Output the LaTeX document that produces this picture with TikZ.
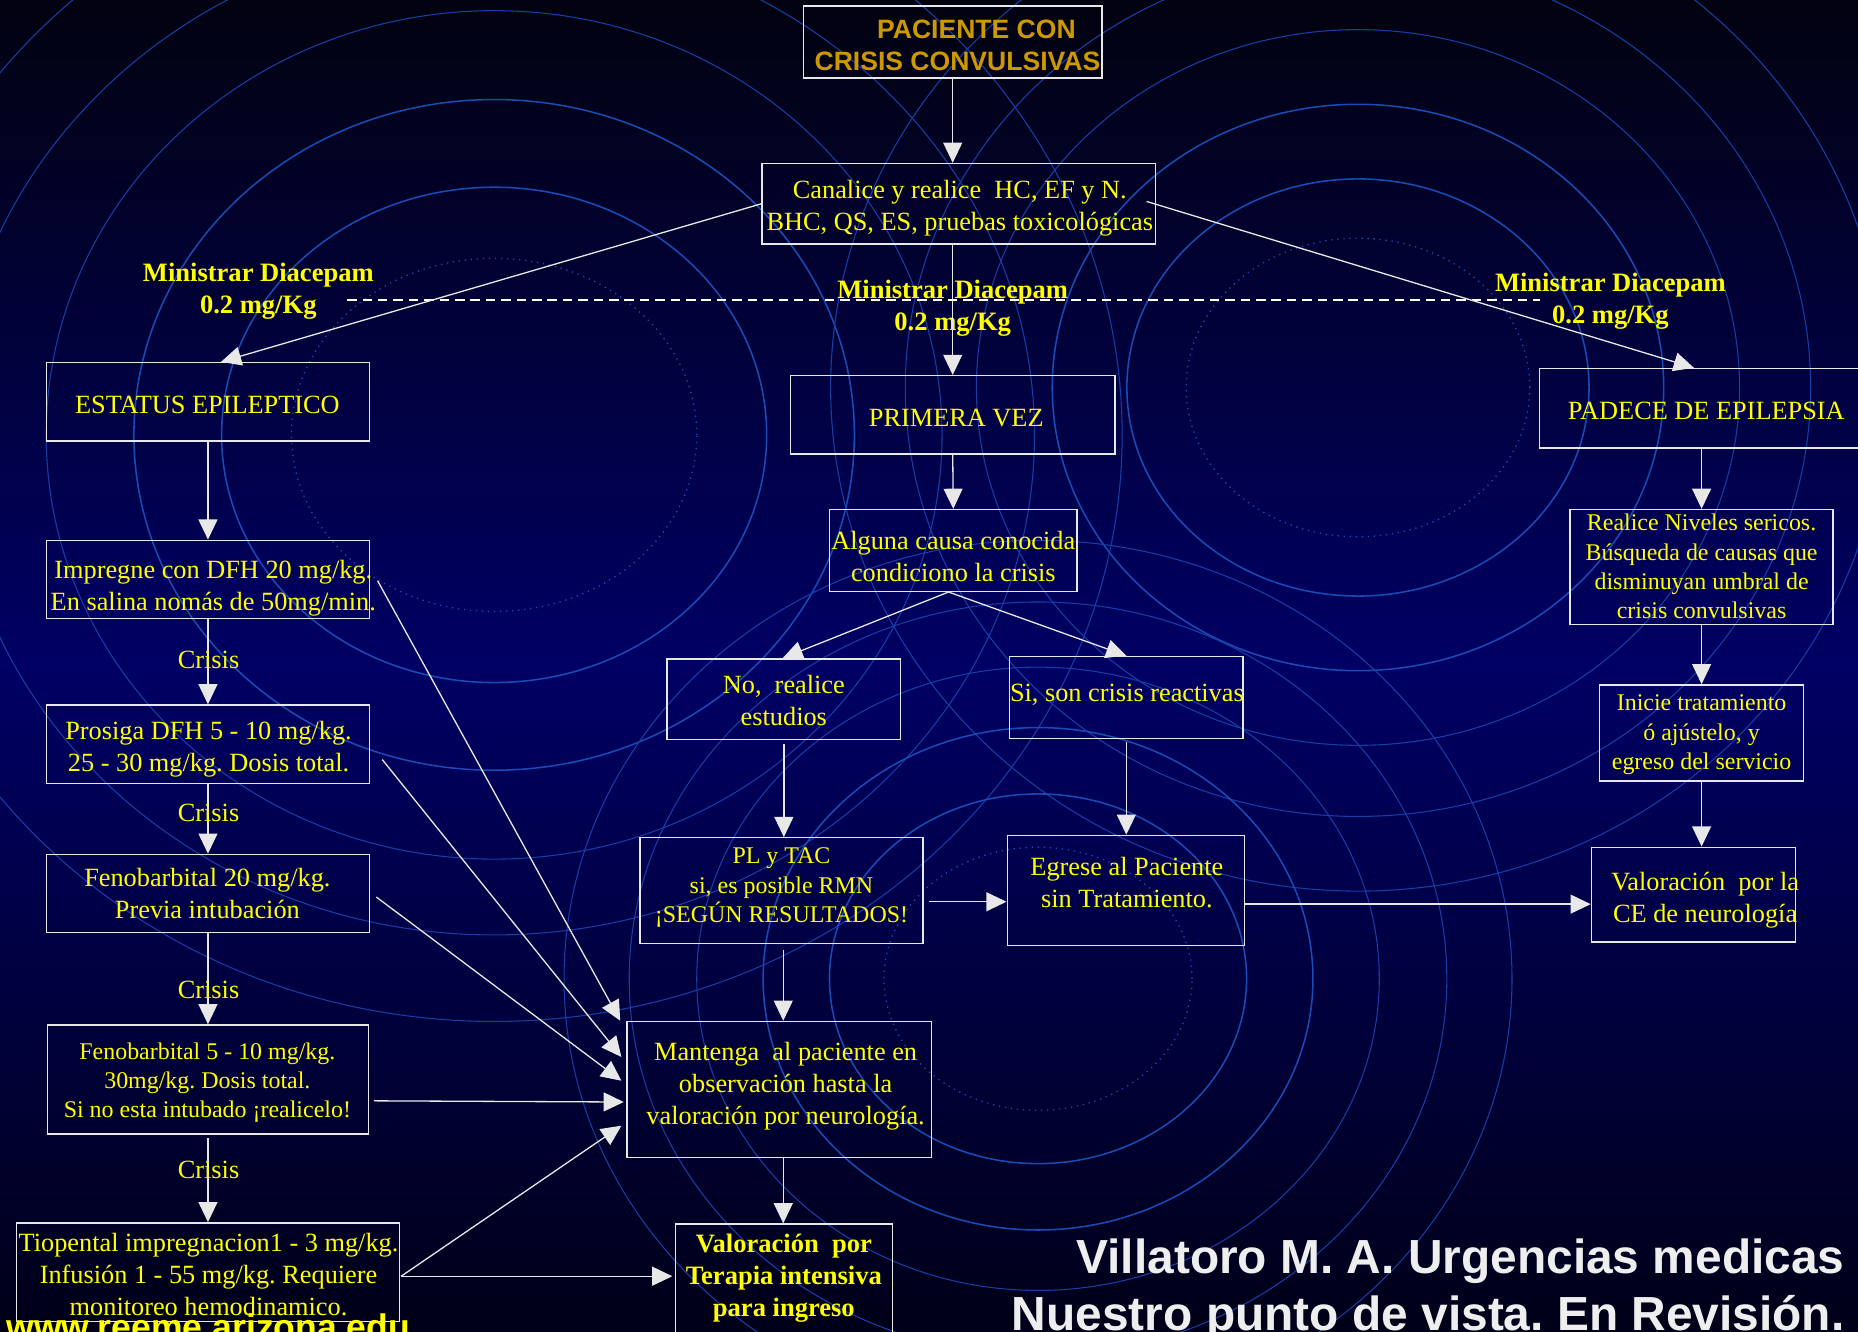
\documentclass[tikz,border=0pt]{standalone}
\usepackage{fontspec}
\setmainfont{Liberation Serif}
\newfontfamily\sansf{Liberation Sans}
\usetikzlibrary{arrows.meta,calc}
\definecolor{ylw}{RGB}{255,255,0}
\definecolor{gold}{RGB}{204,153,0}
\definecolor{ring}{RGB}{25,75,180}
\definecolor{ringdim}{RGB}{22,62,165}
\definecolor{bgtop}{RGB}{2,2,16}
\definecolor{bgmid}{RGB}{0,0,100}
\definecolor{bgbot}{RGB}{0,0,24}
\definecolor{lncol}{RGB}{232,232,232}
\definecolor{footcol}{RGB}{238,238,238}
\frenchspacing
\begin{document}
\begin{tikzpicture}[x=0.5pt,y=-0.5pt,
  box/.style={draw=lncol, line width=0.6pt, inner sep=0pt},
  txt/.style={text=ylw, align=center, inner sep=0pt, font=\fontsize{11.1}{13.5}\selectfont},
  txts/.style={text=ylw, align=center, inner sep=0pt, font=\fontsize{10.1}{12.3}\selectfont},
  txtb/.style={text=ylw, align=center, inner sep=0pt, font=\fontsize{11.2}{13.5}\selectfont\bfseries},
  arr/.style={draw=lncol, line width=0.55pt, -{Triangle[length=8.5pt,width=8pt]}},
  ringS/.style={draw=ring, line width=0.65pt},
  ringT/.style={draw=ringdim, line width=0.45pt},
  ringD/.style={draw=ring, line width=0.55pt, dotted}
]
\useasboundingbox (0,0) rectangle (1568,1124);
\clip (0,0) rectangle (1568,1124);
% background
\shade[top color=bgtop, bottom color=bgmid] (0,0) rectangle (1568,561);
\shade[top color=bgmid, bottom color=bgbot] (0,560) rectangle (1568,1124);
% rings, left set
\draw[ringD] (417,367) ellipse [x radius=85.5pt, y radius=74.5pt];
\draw[ringS] (417,367) ellipse [x radius=115pt, y radius=104.5pt];
\draw[ringS] (417,367) ellipse [x radius=152pt, y radius=141.5pt];
\draw[ringT] (417,367) ellipse [x radius=189pt, y radius=179pt];
\draw[ringT] (417,367) ellipse [x radius=228pt, y radius=211pt];
\draw[ringT] (417,367) ellipse [x radius=265pt, y radius=247.5pt];
% rings, right set
\draw[ringD] (1146,327) ellipse [x radius=72.5pt, y radius=63pt];
\draw[ringS] (1146,327) ellipse [x radius=97.5pt, y radius=88pt];
\draw[ringS] (1146,327) ellipse [x radius=129pt, y radius=119.5pt];
\draw[ringT] (1146,327) ellipse [x radius=161pt, y radius=151pt];
\draw[ringT] (1146,327) ellipse [x radius=191pt, y radius=181pt];
\draw[ringT] (1146,327) ellipse [x radius=222.5pt, y radius=212.5pt];
% rings, bottom set
\draw[ringD] (876,826) ellipse [x radius=65pt, y radius=55.5pt];
\draw[ringS] (876,826) ellipse [x radius=88pt, y radius=78pt];
\draw[ringS] (876,826) ellipse [x radius=116pt, y radius=106pt];
\draw[ringT] (876,826) ellipse [x radius=144pt, y radius=131.5pt];
\draw[ringT] (876,826) ellipse [x radius=172.5pt, y radius=159pt];
\draw[ringT] (876,826) ellipse [x radius=200pt, y radius=185pt];

% boxes
\node[box, minimum width=126pt, minimum height=30.5pt] (title) at (804,35.5) {};
\node[text=gold, align=center, inner sep=0pt, font=\sansf\bfseries\fontsize{11.2}{13.5}\selectfont] (title-t) at (808,38.5) {\hspace*{16pt}PACIENTE CON\\CRISIS CONVULSIVAS};

\node[box, minimum width=166pt, minimum height=34pt] (canal) at (809,172) {};
\node[txt] (canal-t) at (810,175.5) {Canalice y realice\ \ HC, EF y N.\\BHC, QS, ES, pruebas toxicológicas};

\node[box, minimum width=136.5pt, minimum height=33pt] (estatus) at (175.5,339) {};
\node[txt] (estatus-t) at (175,342) {ESTATUS EPILEPTICO};

\node[box, minimum width=137pt, minimum height=33pt] (primera) at (804,350) {};
\node[txt] (primera-t) at (807,353) {PRIMERA VEZ};

\node[box, minimum width=140.5pt, minimum height=33.5pt] (padece) at (1439.5,344.5) {};
\node[txt] (padece-t) at (1440,347) {PADECE DE EPILEPSIA};

\node[box, minimum width=136.5pt, minimum height=33pt] (impregne) at (175.5,489) {};
\node[txt] (impregne-t) at (180,496) {Impregne con DFH 20 mg/kg.\\En salina nomás de 50mg/min.};

\node[box, minimum width=136.5pt, minimum height=33pt] (prosiga) at (175.5,628) {};
\node[txt] (prosiga-t) at (176,632.5) {Prosiga DFH 5 - 10 mg/kg.\\25 - 30 mg/kg. Dosis total.};

\node[box, minimum width=136.5pt, minimum height=33pt] (fenoa) at (175.5,754) {};
\node[txt] (fenoa-t) at (175,754) {Fenobarbital 20 mg/kg.\\Previa intubación};

\node[box, minimum width=135.5pt, minimum height=46pt] (fenob) at (175.5,911) {};
\node[txts] (fenob-t) at (175,913.5) {Fenobarbital 5 - 10 mg/kg.\\30mg/kg. Dosis total.\\Si no esta intubado ¡realicelo!};

\node[box, minimum width=161.5pt, minimum height=41.5pt] (tiop) at (175.5,1073.5) {};
\node[txt] (tiop-t) at (176,1075.5) {Tiopental impregnacion1 - 3 mg/kg.\\Infusión 1 - 55 mg/kg. Requiere\\monitoreo hemodinamico.};

\node[box, minimum width=104.5pt, minimum height=34.5pt] (alguna) at (804.5,464.5) {};
\node[txt] (alguna-t) at (804.5,469.5) {Alguna causa conocida\\condiciono la crisis};

\node[box, minimum width=98.5pt, minimum height=34pt] (no) at (661.5,590) {};
\node[txt] (no-t) at (661.5,591.5) {No,\ \ realice\\estudios};

\node[box, minimum width=98.5pt, minimum height=34.5pt] (si) at (950.5,588.5) {};
\node[txt] (si-t) at (951,586) {Si, son crisis reactivas};

\node[box, minimum width=119.5pt, minimum height=44.5pt] (pl) at (659.5,751.5) {};
\node[txts] (pl-t) at (659.5,749) {PL y TAC\\si, es posible RMN\\¡SEGÚN RESULTADOS!};

\node[box, minimum width=100pt, minimum height=46.5pt] (egrese) at (950,751.5) {};
\node[txt] (egrese-t) at (951,744.5) {Egrese al Paciente\\sin Tratamiento.};

\node[box, minimum width=128.5pt, minimum height=57.5pt] (mant) at (657.5,919.5) {};
\node[txt] (mant-t) at (663,916.5) {Mantenga\ \ al paciente en\\observación hasta la\\valoración por neurología.};

\node[box, minimum width=91.5pt, minimum height=53pt] (terapia) at (661.5,1086) {};
\node[txtb] (terapia-t) at (661.5,1079) {Valoración\ \ por\\Terapia intensiva\\para ingreso};

\node[box, minimum width=111pt, minimum height=48.5pt] (realice) at (1436,478.5) {};
\node[txts] (realice-t) at (1436,478) {Realice Niveles sericos.\\Búsqueda de causas que\\disminuyan umbral de\\crisis convulsivas};

\node[box, minimum width=86pt, minimum height=40.5pt] (inicie) at (1436,618.5) {};
\node[txts] (inicie-t) at (1436,620) {Inicie tratamiento\\ó ajústelo, y\\egreso del servicio};

\node[box, minimum width=86pt, minimum height=40pt] (valce) at (1429,755) {};
\node[txt] (valce-t) at (1439,760) {Valoración\ \ por la\\CE de neurología};

% dashed line and dose labels
\coordinate (dl) at (293,253);
\coordinate (dr) at (1300,253);
\draw[white, line width=0.6pt, dash pattern=on 4pt off 2.5pt] (dl) -- (dr);
\node[txtb] (min1) at (218,245.5) {Ministrar Diacepam\\0.2 mg/Kg};
\node[txtb] (min2) at (804,260.5) {Ministrar Diacepam\\0.2 mg/Kg};
\node[txtb] (min3) at (1359,254.5) {Ministrar Diacepam\\0.2 mg/Kg};

% connectors
\draw[arr] (title.south) -- (title.south |- canal.north);
\draw[arr] (canal.west) -- ([xshift=5.5pt]estatus.north);
\draw[arr] ([shift={(-8,-2)}]canal.east) -- ([xshift=-5pt]padece.north);
\draw[arr] (primera.north |- canal.south) -- (primera.north);
\draw[arr] (estatus.south) -- (impregne.north);
\draw[arr] (impregne.south) -- (prosiga.north);
\draw[arr] (prosiga.south) -- (fenoa.north);
\draw[arr] (fenoa.south) -- (fenob.north);
\draw[arr] ([yshift=-1.5pt]fenob.south) -- (tiop.north);
\node[txt] (c1) at (176,557) {Crisis};
\node[txt] (c2) at (176,686) {Crisis};
\node[txt] (c3) at (176,835) {Crisis};
\node[txt] (c4) at (176,987) {Crisis};

\draw[arr] (primera.south) -- (alguna.north);
\draw[arr] ([xshift=-2pt]alguna.south) -- ([xshift=-0.5pt]no.north);
\draw[arr] ([xshift=-2pt]alguna.south) -- (si.north);
\draw[arr] ([yshift=-1.5pt]no.south) -- (no.south |- pl.north);
\draw[arr] ([yshift=-1.5pt]si.south) -- (si.south |- egrese.north);
\draw[arr] ([shift={(4,9.5)}]pl.east) -- ([shift={(0,9.5)}]egrese.west);
\draw[arr] ([shift={(0,11.5)}]egrese.east) -- ([shift={(0,8)}]valce.west);
\coordinate (plx) at ($(pl.south)+(1.5,5)$);
\draw[arr] (plx) -- (plx |- mant.north);
\draw[arr] (mant.south -| plx) -- (plx |- terapia.north);
\draw[arr] (padece.south -| realice.north) -- (realice.north);
\draw[arr] (realice.south) -- (inicie.north);
\draw[arr] (inicie.south) -- (inicie.south |- valce.north);

\draw[arr] ([shift={(6,1)}]impregne.east) -- ([shift={(-5,0)}]mant.north west);
\draw[arr] ([shift={(10,13)}]prosiga.east) -- ([shift={(-4,-27.5)}]mant.west);
\draw[arr] ([shift={(5,3)}]fenoa.east) -- ([shift={(-4,-7.5)}]mant.west);
\draw[arr] ([shift={(4,18)}]fenob.east) -- ([shift={(-2,10.5)}]mant.west);
\draw[arr] ([shift={(1,3.5)}]tiop.east) -- ([shift={(-4,30.5)}]mant.west);
\draw[arr] ([shift={(1,3.5)}]tiop.east) -- ([shift={(-2,-9)}]terapia.west);

% footer texts
\node[anchor=base east, inner sep=0pt, text=footcol, font=\sansf\bfseries\fontsize{20.2}{24}\selectfont] (foot1) at (1557,1075) {Villatoro M. A. Urgencias medicas};
\node[anchor=base east, inner sep=0pt, text=footcol, font=\sansf\bfseries\fontsize{20.2}{24}\selectfont] (foot2) at (1557,1123) {Nuestro punto de vista. En Revisión.};
\node[anchor=base west, inner sep=0pt, text=ylw, font=\sansf\bfseries\fontsize{15}{18}\selectfont] (www) at (5,1130) {www.reeme.arizona.edu};
\end{tikzpicture}
\end{document}
